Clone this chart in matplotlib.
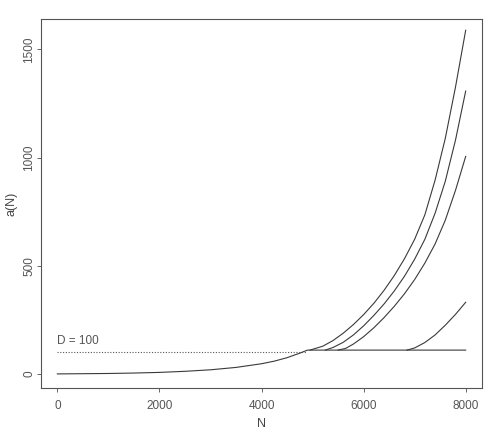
import matplotlib
matplotlib.use("Agg")
import matplotlib.pyplot as plt

plt.rcParams['font.family'] = ['Liberation Sans', 'DejaVu Sans']

# Base curve rising to the plateau, then flat
base_n = [0, 500, 1000, 1500, 2000, 2500, 3000, 3500, 4000, 4250, 4500, 4750, 4900, 8000]
base_a = [0, 1, 2, 4, 7, 12, 19, 30, 47, 59, 75, 96, 110, 110]

# Branch curves
c1_n = [4950, 5200, 5400, 5600, 5800, 6000, 6200, 6400, 6600, 6800, 7000, 7200, 7400, 7600, 7800, 8000]
c1_a = [110, 128, 154, 188, 228, 274, 326, 386, 454, 532, 622, 735, 895, 1088, 1325, 1588]

c2_n = [5250, 5400, 5600, 5800, 6000, 6200, 6400, 6600, 6800, 7000, 7200, 7400, 7600, 7800, 8000]
c2_a = [110, 122, 146, 180, 222, 270, 323, 383, 451, 530, 622, 742, 890, 1080, 1307]

c3_n = [5500, 5650, 5800, 6000, 6200, 6400, 6600, 6800, 7000, 7200, 7400, 7600, 7800, 8000]
c3_a = [110, 118, 138, 172, 213, 260, 312, 370, 436, 512, 600, 710, 848, 1005]

c4_n = [6850, 7000, 7200, 7400, 7600, 7800, 8000]
c4_a = [110, 120, 145, 180, 225, 275, 331]

D = 100
d_end = 4880
x_ticks = [0, 2000, 4000, 6000, 8000]
y_ticks = [0, 500, 1000, 1500]

fig = plt.figure(figsize=(4.86, 4.32), dpi=100)
ax = fig.add_axes([0.0844, 0.1019, 0.9918 - 0.0844, 0.956 - 0.1019])

lc = '#3a3a3a'
lw = 0.8
ax.plot(base_n, base_a, color=lc, lw=lw)
for n, a in [(c1_n, c1_a), (c2_n, c2_a), (c3_n, c3_a), (c4_n, c4_a)]:
    ax.plot(n, a, color=lc, lw=lw)
ax.plot([0, d_end], [D, D], color='#555555', lw=0.8, linestyle=(0, (1, 1.5)))
ax.text(0, D + 25, "D = 100", fontsize=8.5, color='#555555', ha='left', va='bottom')

ax.set_xlim(-320, 8320)
ax.set_ylim(-65, 1640)
ax.set_xticks(x_ticks)
ax.set_yticks(y_ticks)
ax.set_xticklabels([str(v) for v in x_ticks], fontsize=8.5, color='#555555')
ax.set_yticklabels([str(v) for v in y_ticks], fontsize=8.5, color='#555555', rotation=90)
ax.tick_params(direction='out', length=3, width=0.7, colors='#666666', labelcolor='#555555')
ax.tick_params(axis='x', pad=6)
ax.tick_params(axis='y', pad=1)
for lab in ax.get_yticklabels():
    lab.set_verticalalignment('center')
for s in ax.spines.values():
    s.set_color('#555555')
    s.set_linewidth(0.8)
ax.set_xlabel("N", fontsize=9, color='#444444', labelpad=4)
ax.set_ylabel("a(N)", fontsize=9, color='#444444', labelpad=4)

fig.savefig("out.png", dpi=100)
